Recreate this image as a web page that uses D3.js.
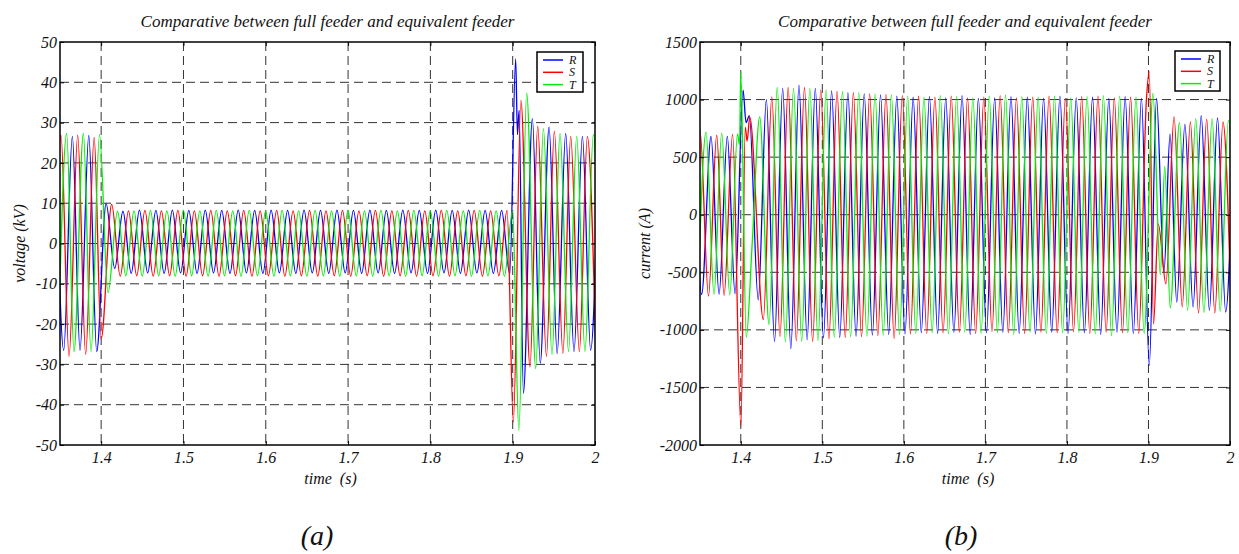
<!DOCTYPE html>
<html><head><meta charset="utf-8">
<script src="https://cdn.jsdelivr.net/npm/d3@7"></script>
<style>
body{margin:0;background:#fff}
svg{display:block}
</style>
</head><body><svg id="c" width="1239" height="554"></svg>
<script>
// ---------- data ----------
const seriesNames = ["R", "S", "T"];
const timeTicks = [1.4, 1.5, 1.6, 1.7, 1.8, 1.9, 2];
const voltTicks = [-50, -40, -30, -20, -10, 0, 10, 20, 30, 40, 50];
const currTicks = [-2000, -1500, -1000, -500, 0, 500, 1000, 1500];
const titleText = "Comparative between full feeder and equivalent feeder";

// voltage (kV): extrema [time s, value]
const voltR = [[1.3445,26.6],[1.3545,-26.5],[1.3650,26.6],[1.3743,-26.5],[1.3850,26.8],[1.3946,-26.8],[1.4060,9.9],[1.4165,-6.2],
[1.4265,8.0],[1.4365,-7.4],[1.4465,8.3],[1.4565,-7.3],[1.4665,8.2],[1.4765,-7.4],[1.4865,8.3],[1.4965,-7.3],[1.5065,8.2],[1.5165,-7.4],[1.5265,8.3],[1.5365,-7.3],
[1.5465,8.2],[1.5565,-7.4],[1.5665,8.3],[1.5765,-7.3],[1.5865,8.2],[1.5965,-7.4],[1.6065,8.3],[1.6165,-7.3],[1.6265,8.2],[1.6365,-7.4],[1.6465,8.3],[1.6565,-7.3],
[1.6665,8.2],[1.6765,-7.4],[1.6865,8.3],[1.6965,-7.3],[1.7065,8.2],[1.7165,-7.4],[1.7265,8.3],[1.7365,-7.3],[1.7465,8.2],[1.7565,-7.4],[1.7665,8.3],[1.7765,-7.3],
[1.7865,8.2],[1.7965,-7.4],[1.8065,8.3],[1.8165,-7.3],[1.8265,8.2],[1.8365,-7.4],[1.8465,8.3],[1.8565,-7.3],[1.8665,8.2],[1.8765,-7.4],[1.8865,8.2],[1.8965,-7.6],
[1.9036,45.8],[1.9058,27],[1.9078,33],[1.9130,-37.2],[1.9239,31],[1.9335,-29.7],[1.9442,28.9],[1.9540,-27.3],[1.9644,27.3],[1.9745,-26.8],[1.9847,26.6],[1.9947,-26.5],[2.0049,26.6]];

const voltS = [[1.3412,-27],[1.3512,26.9],[1.3610,-28],[1.3715,26.9],[1.3812,-27.5],[1.3915,26.3],[1.4000,-23.6],[1.4128,9.7],
[1.4232,-8.1],[1.4332,8.1],[1.4432,-8.0],[1.4532,8.2],[1.4632,-8.1],[1.4732,8.1],[1.4832,-8.0],[1.4932,8.2],[1.5032,-8.1],[1.5132,8.1],[1.5232,-8.0],[1.5332,8.2],
[1.5432,-8.1],[1.5532,8.1],[1.5632,-8.0],[1.5732,8.2],[1.5832,-8.1],[1.5932,8.1],[1.6032,-8.0],[1.6132,8.2],[1.6232,-8.1],[1.6332,8.1],[1.6432,-8.0],[1.6532,8.2],
[1.6632,-8.1],[1.6732,8.1],[1.6832,-8.0],[1.6932,8.2],[1.7032,-8.1],[1.7132,8.1],[1.7232,-8.0],[1.7332,8.2],[1.7432,-8.1],[1.7532,8.1],[1.7632,-8.0],[1.7732,8.2],
[1.7832,-8.1],[1.7932,8.1],[1.8032,-8.0],[1.8132,8.2],[1.8232,-8.1],[1.8332,8.1],[1.8432,-8.0],[1.8532,8.2],[1.8632,-8.1],[1.8732,8.1],[1.8832,-8.0],[1.8932,8.2],
[1.9008,-44.3],[1.9100,35.5],[1.9210,-30.6],[1.9304,29.1],[1.9410,-28],[1.9506,27.9],[1.9610,-27.2],[1.9705,26.6],[1.9810,-26.8],[1.9907,26.5],[2.0010,-26.5]];

const voltT = [[1.3477,-26.8],[1.3581,27.3],[1.3670,-26.8],[1.3784,27.3],[1.3877,-26.8],[1.3980,27],[1.4083,-12.2],
[1.4199,8.0],[1.4299,-8.0],[1.4399,8.1],[1.4499,-8.1],[1.4599,8.2],[1.4699,-8.0],[1.4799,8.1],[1.4899,-8.1],[1.4999,8.2],[1.5099,-8.0],[1.5199,8.1],[1.5299,-8.1],
[1.5399,8.2],[1.5499,-8.0],[1.5599,8.1],[1.5699,-8.1],[1.5799,8.2],[1.5899,-8.0],[1.5999,8.1],[1.6099,-8.1],[1.6199,8.2],[1.6299,-8.0],[1.6399,8.1],[1.6499,-8.1],
[1.6599,8.2],[1.6699,-8.0],[1.6799,8.1],[1.6899,-8.1],[1.6999,8.2],[1.7099,-8.0],[1.7199,8.1],[1.7299,-8.1],[1.7399,8.2],[1.7499,-8.0],[1.7599,8.1],[1.7699,-8.1],
[1.7799,8.2],[1.7899,-8.0],[1.7999,8.1],[1.8099,-8.1],[1.8199,8.2],[1.8299,-8.0],[1.8399,8.1],[1.8499,-8.1],[1.8599,8.2],[1.8699,-8.0],[1.8799,8.1],[1.8899,-8.1],[1.8999,8.1],
[1.9075,-46.4],[1.9170,37.4],[1.9280,-31],[1.9373,28.5],[1.9478,-27.5],[1.9575,27.3],[1.9678,-26.8],[1.9778,26.6],[1.9878,-26.8],[1.9980,27],[2.0080,-26.5]];

// current (A): extrema [time s, value]
const currR = [[1.3435,680],[1.3520,-692],[1.3635,680],[1.3734,-690],[1.3835,680],[1.3930,-687],[1.4028,1082],[1.4065,800],[1.4105,860],[1.4214,-740],
[1.4314,1000],[1.4414,-1100],[1.4514,1097],[1.4614,-1163],[1.4714,1126],[1.4814,-1085],[1.4914,1097],[1.5014,-1070],[1.5114,1075],[1.5214,-1065],
[1.5314,1060],[1.5414,-1055],[1.5514,1050],[1.5614,-1045],[1.5714,1040],[1.5814,-1040],[1.5914,1030],[1.6014,-1035],[1.6114,1020],[1.6214,-1025],
[1.6314,1025],[1.6414,-1030],[1.6514,1015],[1.6614,-1020],[1.6714,1035],[1.6814,-1040],[1.6914,1010],[1.7014,-1025],[1.7114,1015],[1.7214,-1020],
[1.7314,1025],[1.7414,-1030],[1.7514,1020],[1.7614,-1035],[1.7714,1010],[1.7814,-1020],[1.7914,1030],[1.8014,-1030],[1.8114,1015],[1.8214,-1025],
[1.8314,1020],[1.8414,-1040],[1.8514,1010],[1.8614,-1020],[1.8714,1025],[1.8814,-1030],[1.8914,1010],[1.9010,-1310],
[1.9099,1010],[1.9190,-500],[1.9265,700],[1.9347,-760],[1.9447,785],[1.9547,-800],[1.9647,860],[1.9747,-830],[1.9847,840],[1.9947,-845],[2.0047,830]];

const currS = [[1.3404,-700],[1.3500,733],[1.3604,-707],[1.3705,690],[1.3795,-700],[1.3900,698],[1.4002,-1841],[1.4055,760],[1.4078,640],[1.4110,849],[1.4277,-910],
[1.4381,1024],[1.4481,-1056],[1.4581,1105],[1.4681,-1094],[1.4781,1105],[1.4881,-1100],[1.4981,1082],[1.5081,-1076],[1.5181,1070],[1.5281,-1065],
[1.5381,1060],[1.5481,-1060],[1.5581,1050],[1.5681,-1050],[1.5781,1045],[1.5881,-1075],[1.5981,1035],[1.6081,-1035],[1.6181,1030],[1.6281,-1030],
[1.6381,1020],[1.6481,-1025],[1.6581,1030],[1.6681,-1020],[1.6781,1015],[1.6881,-1030],[1.6981,1020],[1.7081,-1015],[1.7181,1035],[1.7281,-1025],
[1.7381,1015],[1.7481,-1030],[1.7581,1020],[1.7681,-1020],[1.7781,1030],[1.7881,-1025],[1.7981,1010],[1.8081,-1015],[1.8181,1025],[1.8281,-1030],
[1.8381,1030],[1.8481,-1020],[1.8581,1015],[1.8681,-1025],[1.8781,1020],[1.8881,-1030],[1.8975,1000],[1.9010,1242],
[1.9062,-950],[1.9120,-80],[1.9214,-600],[1.9314,849],[1.9414,-800],[1.9514,805],[1.9614,-852],[1.9714,830],[1.9814,-852],[1.9914,805],[2.0014,-830]];

const currT = [[1.3476,-690],[1.3574,718],[1.3672,-692],[1.3766,708],[1.3865,-695],[1.3960,700],[1.3985,610],[1.4000,1240],[1.4067,-1064],[1.4140,-250],[1.4232,849],
[1.4347,-954],[1.4447,1105],[1.4547,-1105],[1.4647,1097],[1.4747,-1100],[1.4847,1097],[1.4947,-1094],[1.5047,1082],[1.5147,-1064],[1.5247,1070],
[1.5347,-1060],[1.5447,1060],[1.5547,-1055],[1.5647,1050],[1.5747,-1045],[1.5847,1040],[1.5947,-1040],[1.6047,1030],[1.6147,-1030],[1.6247,1020],
[1.6347,-1025],[1.6447,1035],[1.6547,-1035],[1.6647,1025],[1.6747,-1020],[1.6847,1015],[1.6947,-1030],[1.7047,1030],[1.7147,-1025],[1.7247,1040],
[1.7347,-1040],[1.7447,1025],[1.7547,-1020],[1.7647,1020],[1.7747,-1030],[1.7847,1030],[1.7947,-1025],[1.8047,1015],[1.8147,-1020],[1.8247,1025],
[1.8347,-1035],[1.8447,1035],[1.8547,-1050],[1.8647,1030],[1.8747,-1025],[1.8847,1020],[1.8947,-1030],[1.9055,1053],
[1.9145,-520],[1.9200,420],[1.9267,-809],[1.9380,800],[1.9480,-830],[1.9580,835],[1.9680,-850],[1.9780,835],[1.9880,-840],[1.9980,820],[2.0080,-840]];

// ---------- drawing ----------
const colors = {R: "#0000ff", S: "#ff0000", T: "#00ee00"};
const FONT = '"Liberation Serif", "Times New Roman", "DejaVu Serif", serif';
const svg = d3.select("#c");

const panels = [
  {id: "a", x0: 60, x1: 595, y0: 42, y1: 445, yDom: [-50, 50], yTicks: voltTicks,
   series: [voltR, voltS, voltT], ylabel: "voltage (kV)", ylabX: 25, tag: "(a)", tagX: 317,
   leg: {x: 537, y: 52, w: 46, h: 40}},
  {id: "b", x0: 700, x1: 1230, y0: 42, y1: 445, yDom: [-2000, 1500], yTicks: currTicks,
   series: [currR, currS, currT], ylabel: "current (A)", ylabX: 650, tag: "(b)", tagX: 961,
   leg: {x: 1175, y: 51, w: 45, h: 40}}
];

panels.forEach(p => {
  const x = d3.scaleLinear().domain([1.35, 2]).range([p.x0, p.x1]);
  const y = d3.scaleLinear().domain(p.yDom).range([p.y1, p.y0]);
  const g = svg.append("g");

  g.append("clipPath").attr("id", "clip" + p.id).append("rect")
    .attr("x", p.x0).attr("y", p.y0).attr("width", p.x1 - p.x0).attr("height", p.y1 - p.y0);

  // grid
  const xIn = timeTicks.filter(t => t > 1.35 && t < 2);
  const yIn = p.yTicks.filter(v => v > p.yDom[0] && v < p.yDom[1]);
  g.append("g").selectAll("line").data(xIn).join("line")
    .attr("x1", d => x(d)).attr("x2", d => x(d)).attr("y1", p.y0).attr("y2", p.y1)
    .attr("stroke", "#333").attr("stroke-width", 1).attr("stroke-dasharray", "9,5");
  g.append("g").selectAll("line").data(yIn).join("line")
    .attr("x1", p.x0).attr("x2", p.x1).attr("y1", d => y(d)).attr("y2", d => y(d))
    .attr("stroke", "#333").attr("stroke-width", 1).attr("stroke-dasharray", "9,5");

  // series
  const line = d3.line().x(d => x(d[0])).y(d => y(d[1])).curve(d3.curveMonotoneX);
  const lg = g.append("g").attr("clip-path", `url(#clip${p.id})`);
  p.series.forEach((s, i) => {
    lg.append("path").datum(s).attr("d", line).attr("fill", "none")
      .attr("stroke", colors[seriesNames[i]]).attr("stroke-width", 1.3).attr("stroke-linejoin", "round");
  });

  // axes (MATLAB-like box with inward ticks)
  const axB = d3.axisBottom(x).tickValues(timeTicks).tickSizeInner(-4).tickSizeOuter(0).tickFormat(d => String(d)).tickPadding(7);
  const axT = d3.axisTop(x).tickValues(timeTicks).tickSizeInner(-4).tickSizeOuter(0).tickFormat("");
  const axL = d3.axisLeft(y).tickValues(p.yTicks).tickSizeInner(-4).tickSizeOuter(0).tickFormat(d => String(d)).tickPadding(3);
  const axR = d3.axisRight(y).tickValues(p.yTicks).tickSizeInner(-4).tickSizeOuter(0).tickFormat("");
  const ab = g.append("g").attr("transform", `translate(0,${p.y1})`).call(axB);
  g.append("g").attr("transform", `translate(0,${p.y0})`).call(axT);
  const al = g.append("g").attr("transform", `translate(${p.x0},0)`).call(axL);
  g.append("g").attr("transform", `translate(${p.x1},0)`).call(axR);
  g.selectAll(".domain").remove();
  g.selectAll(".tick line").attr("stroke", "#000").attr("stroke-width", 1);
  ab.selectAll("text").attr("font-size", 16);
  al.selectAll("text").attr("font-size", 16);
  g.append("rect").attr("x", p.x0).attr("y", p.y0).attr("width", p.x1 - p.x0).attr("height", p.y1 - p.y0)
    .attr("fill", "none").attr("stroke", "#000").attr("stroke-width", 1.5);

  const cx = (p.x0 + p.x1) / 2;
  // title
  g.append("text").attr("x", cx).attr("y", 27).attr("text-anchor", "middle").attr("font-size", 17).text(titleText);
  // x label
  g.append("text").attr("x", cx + 3).attr("y", 484).attr("text-anchor", "middle").attr("font-size", 16)
    .style("white-space", "pre").text("time  (s)");
  // y label
  g.append("text").attr("transform", `translate(${p.ylabX},${(p.y0 + p.y1) / 2}) rotate(-90)`)
    .attr("text-anchor", "middle").attr("font-size", 16).text(p.ylabel);
  // panel tag
  g.append("text").attr("x", p.tagX).attr("y", 545).attr("text-anchor", "middle").attr("font-size", 28).text(p.tag);

  // legend
  const L = p.leg;
  const lgd = g.append("g");
  lgd.append("rect").attr("x", L.x).attr("y", L.y).attr("width", L.w).attr("height", L.h)
    .attr("fill", "#fff").attr("stroke", "#000").attr("stroke-width", 1.5);
  seriesNames.forEach((n, i) => {
    const yy = L.y + 8 + i * 12.3;
    lgd.append("line").attr("x1", L.x + 6).attr("x2", L.x + 26).attr("y1", yy).attr("y2", yy)
      .attr("stroke", colors[n]).attr("stroke-width", 1.5);
    lgd.append("text").attr("x", L.x + 32).attr("y", yy + 4).attr("font-size", 12).text(n);
  });
});

svg.selectAll("text")
  .style("font-family", FONT).style("font-style", "italic").attr("fill", "#111");
</script></body></html>
